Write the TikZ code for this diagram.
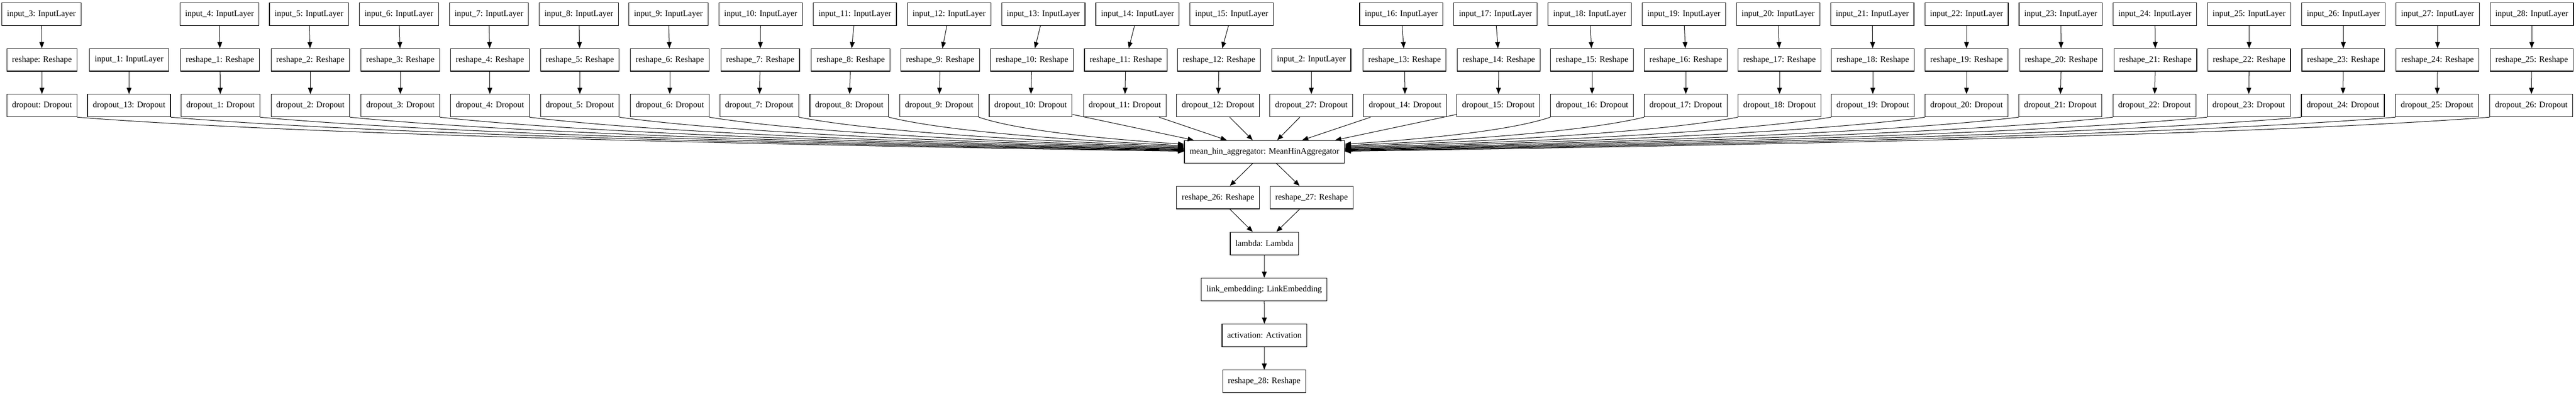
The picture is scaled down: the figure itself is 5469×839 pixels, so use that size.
\documentclass[tikz,border=0pt]{standalone}
\usepackage{fontspec}
\setmainfont{Liberation Serif}
\usetikzlibrary{arrows.meta}
\begin{document}
\begin{tikzpicture}[x=1bp,y=-1bp,
  box/.style={draw, line width=1.3bp, rectangle, minimum height=48bp, inner xsep=11bp, inner ysep=0pt, font=\fontsize{18bp}{22bp}\selectfont},
  edge/.style={line width=1.1bp, -{Triangle[length=13bp,width=10bp]}}]
\useasboundingbox (0,0) rectangle (5469,839);
% row 1
\node[box] (i3) at (88,30) {input\_3: InputLayer};
\foreach \k/\x in {4/466,5/656,6/847,7/1038,8/1229,9/1419,10/1615,11/1815,12/2015,13/2215,14/2415,15/2615,16/2975,17/3175,18/3375,19/3575,20/3775,21/3975,22/4175,23/4375,24/4575,25/4775,26/4975,27/5175,28/5375}
  \node[box] (i\k) at (\x,30) {input\_\k: InputLayer};
% row 2
\node[box] (r0) at (89,127) {reshape: Reshape};
\node[box] (i1) at (274,127) {input\_1: InputLayer};
\node[box] (i2) at (2784,127) {input\_2: InputLayer};
\foreach \k/\x in {1/467,2/659,3/850,4/1040,5/1231,6/1422,7/1614,8/1806,9/1996,10/2191,11/2390,12/2588,13/2982,14/3182,15/3380,16/3579,17/3778,18/3976,19/4175,20/4376,21/4576,22/4775,23/4975,24/5175,25/5375}
  \node[box] (r\k) at (\x,127) {reshape\_\k: Reshape};
% row 3
\node[box] (d0) at (89,224) {dropout: Dropout};
\foreach \k/\x in {13/274,1/468,2/659,3/850,4/1040,5/1231,6/1422,7/1612,8/1803,9/1994,10/2188,11/2388,12/2586,27/2784,14/2983,15/3181,16/3380,17/3579,18/3778,19/3976,20/4175,21/4374,22/4574,23/4774,24/4974,25/5174,26/5374}
  \node[box] (d\k) at (\x,224) {dropout\_\k: Dropout};
% lower chain
\node[box] (agg) at (2684.5,322) {mean\_hin\_aggregator: MeanHinAggregator};
\node[box] (r26) at (2586,419) {reshape\_26: Reshape};
\node[box] (r27) at (2784.5,419) {reshape\_27: Reshape};
\node[box] (lam) at (2684.5,516.5) {lambda: Lambda};
\node[box] (link) at (2684,614) {link\_embedding: LinkEmbedding};
\node[box] (act) at (2684.5,711.5) {activation: Activation};
\node[box] (r28) at (2684,809) {reshape\_28: Reshape};
% vertical edges
\draw[edge] (i3) -- (r0);
\draw[edge] (r0) -- (d0);
\draw[edge] (i1) -- (d13);
\draw[edge] (i2) -- (d27);
\foreach \k/\r in {4/1,5/2,6/3,7/4,8/5,9/6,10/7,11/8,12/9,13/10,14/11,15/12}{
  \draw[edge] (i\k) -- (r\r);
  \draw[edge] (r\r) -- (d\r);
}
\foreach \k/\r/\d in {16/13/14,17/14/15,18/15/16,19/16/17,20/17/18,21/18/19,22/19/20,23/20/21,24/21/22,25/22/23,26/23/24,27/24/25,28/25/26}{
  \draw[edge] (i\k) -- (r\r);
  \draw[edge] (r\r) -- (d\d);
}
% left curved edges into aggregator
\foreach \n/\L/\s in {d0/2347/1,d13/2149/2,d1/1959/3,d2/1768/4,d3/1577/5,d4/1387/6,d5/1196/7.5,d6/1005/9,d7/815/11,d8/624/13,d9/433/16}
  \draw[edge] (\n.south east) .. controls +({0.2*\L},{0.5*(74-\s)}) and +({-0.4*\L},{-0.2*(74-\s)}) .. ([yshift=\s*1bp]agg.west);
% right curved edges into aggregator
\foreach \n/\L/\s in {d16/435/16,d17/634/13,d18/833/11,d19/1031/9,d20/1230/7.5,d21/1429/6,d22/1629/5,d23/1829/4,d24/2029/3,d25/2229/2,d26/2429/1}
  \draw[edge] (\n.south west) .. controls +({-0.2*\L},{0.5*(74-\s)}) and +({0.4*\L},{-0.2*(74-\s)}) .. ([yshift=\s*1bp]agg.east);
% straight edges into aggregator top
\foreach \n/\o in {d10/-150,d11/-80,d12/-25,d27/27,d14/80,d15/150}
  \draw[edge] (\n) -- ([xshift=\o*1bp]agg.north);
% lower chain edges
\draw[edge] (agg) -- (r26);
\draw[edge] (agg) -- (r27);
\draw[edge] (r26) -- (lam);
\draw[edge] (r27) -- (lam);
\draw[edge] (lam) -- (link);
\draw[edge] (link) -- (act);
\draw[edge] (act) -- (r28);
\end{tikzpicture}
\end{document}
